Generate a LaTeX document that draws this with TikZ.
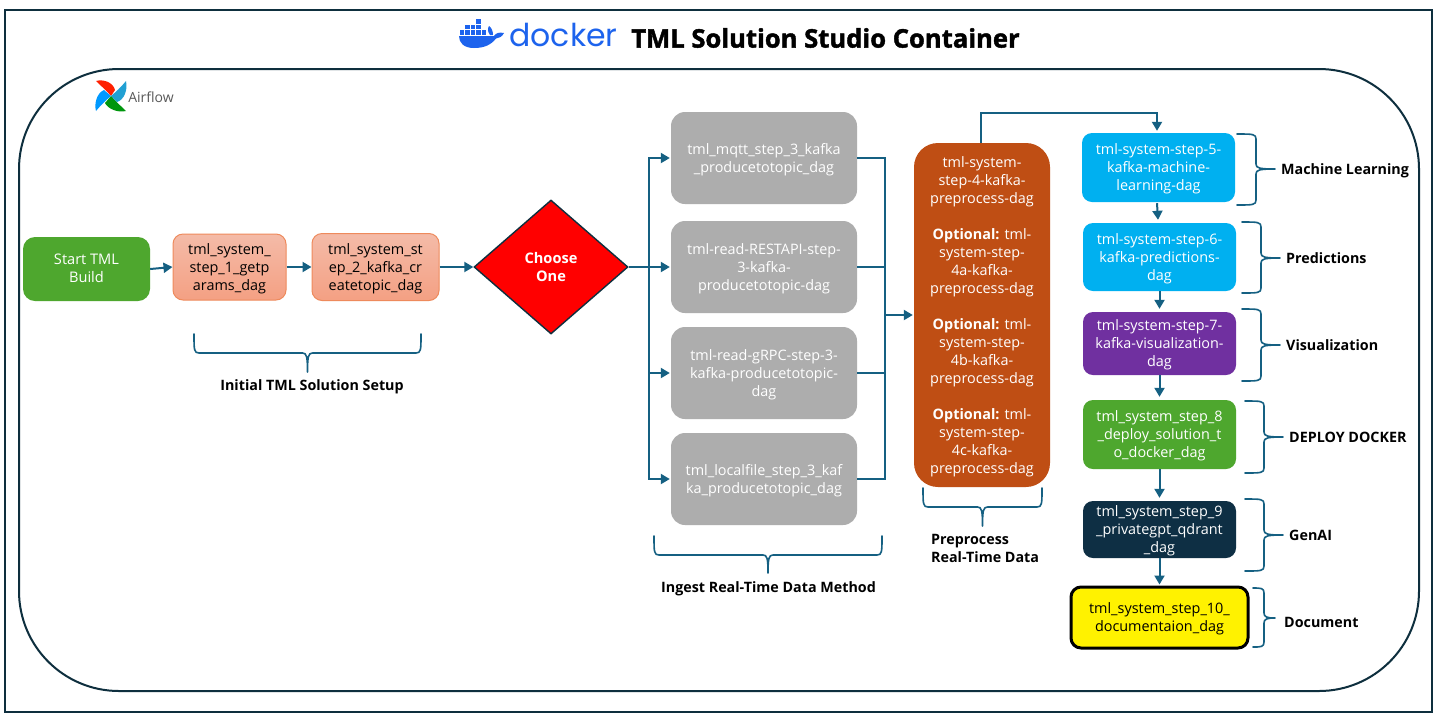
\documentclass[tikz,border=0pt]{standalone}
\usepackage{fontspec}
\setmainfont{Open Sans}
\newfontfamily\dockerfont{Poppins}
\newfontfamily\titlefont[BoldFeatures={FakeBold=1.6}]{Open Sans}
\usetikzlibrary{arrows.meta,shapes.geometric,calc}
\definecolor{frame}{HTML}{0E2F3E}
\definecolor{conn}{HTML}{156082}
\definecolor{startgreen}{HTML}{4EA72E}
\definecolor{greybox}{HTML}{ADADAD}
\definecolor{rust}{HTML}{BF4E14}
\definecolor{skyb}{HTML}{00B0F0}
\definecolor{purp}{HTML}{7030A0}
\definecolor{navy}{HTML}{0E2F44}
\definecolor{dockblue}{HTML}{1D63ED}
\definecolor{salmontop}{HTML}{F4BBA8}
\definecolor{salmonbot}{HTML}{F4A083}
\definecolor{salmonline}{HTML}{EE8A5C}
\tikzset{
  dag/.style={rounded corners=#1,inner sep=0pt,align=center,text=white,
    font=\fontsize{14.4}{18}\selectfont},
  dag/.default=12pt,
  salmon/.style={dag=10pt,draw=salmonline,line width=1pt,top color=salmontop,bottom color=salmonbot,text=black},
  lab/.style={font=\fontsize{14.3}{18}\selectfont\bfseries,inner sep=0pt,align=left,text=black},
  linelab/.style={lab,text height=15pt,text depth=3.5pt},
  flow/.style={draw=conn,line width=2pt,-{Triangle[length=9pt,width=10pt]}},
  bus/.style={draw=conn,line width=2pt},
  bracecurve/.style={draw=conn,line width=1.6pt,line cap=round,line join=round},
}
% name, x1, y1, x2, y2, style, text
\newcommand\dagbox[7]{%
  \node[#6,minimum width=#4pt-#2pt,minimum height=#5pt-#3pt] (#1) at ({(#2+#4)/2},{(#3+#5)/2}) {\rule{0pt}{14pt}#7\rule[-4pt]{0pt}{0pt}};}
% horizontal brace: x1, x2, ytop, ymid, ytip
\newcommand\hbrace[5]{%
  \draw[bracecurve] (#1,#3) .. controls (#1,#4-3) and (#1,#4) .. (#1+5,#4)
   -- ({(#1+#2)/2-5},#4) .. controls ({(#1+#2)/2-1},#4) and ({(#1+#2)/2},#4+3) .. ({(#1+#2)/2},#5)
   (#2,#3) .. controls (#2,#4-3) and (#2,#4) .. (#2-5,#4)
   -- ({(#1+#2)/2+5},#4) .. controls ({(#1+#2)/2+1},#4) and ({(#1+#2)/2},#4+3) .. ({(#1+#2)/2},#5);}
% vertical (right) brace: xstart, xmid, xtip, y1, y2, ytip
\newcommand\vbrace[6]{%
  \draw[bracecurve] (#1,#4) .. controls (#2-3,#4) and (#2,#4) .. (#2,#4+5)
   -- (#2,#6-5) .. controls (#2,#6-1) and (#2+3,#6) .. (#3,#6)
   (#1,#5) .. controls (#2-3,#5) and (#2,#5) .. (#2,#5-5)
   -- (#2,#6+5) .. controls (#2,#6+1) and (#2+3,#6) .. (#3,#6);}
\begin{document}
\begin{tikzpicture}[x=1pt,y=-1pt]
\useasboundingbox (0,0) rectangle (1437,716);
\fill[white] (0,0) rectangle (1437,716);
% frames
\draw[frame,line width=2.4pt] (5,10) rectangle (1432,712);
\draw[frame,line width=2pt,rounded corners=100pt] (19,69) rectangle (1419,691);
% docker logo
\fill[dockblue] (459,36) -- (494,36) .. controls (496,33) and (499,32) .. (504,33)
  .. controls (502,37) and (499,38) .. (496,38.5) .. controls (491,45) and (484,48) .. (474,48)
  .. controls (464,48) and (459,43) .. (459,36) -- cycle;
\foreach \px/\py in {459.5/30,465/30,470.5/30,476/30,481.5/30,
   465/24.5,470.5/24.5,476/24.5,476/19}
  \fill[dockblue] (\px,\py) rectangle +(4.6,4.6);
\fill[dockblue] (489,26) .. controls (487,29) and (488,32) .. (490,35) -- (493,35) .. controls (493,32) and (492,28) .. (489,26) -- cycle;
\node[text=dockblue,inner sep=0pt,font=\dockerfont\fontsize{31.5}{32}\selectfont] (dockerword) at (563.5,35) {docker};
\node[font=\titlefont\fontsize{25.6}{30}\selectfont\bfseries,inner sep=0pt] (title) at (825.5,38) {TML Solution Studio Container};
% airflow logo
\fill[red!75!orange] (111,96) .. controls (107,91) and (101,86) .. (96,81) .. controls (103,79) and (113,82) .. (115,90) -- cycle;
\fill[cyan!70!teal] (111,96) .. controls (116,92) and (121,87) .. (126,81) .. controls (128,90) and (124,100) .. (117,102) -- cycle;
\fill[green!60!black!90!teal] (111,96) .. controls (115,101) and (121,106) .. (126,111) .. controls (118,113) and (108,109) .. (105,103) -- cycle;
\fill[blue!40!cyan] (111,96) .. controls (106,100) and (101,105) .. (96,111) .. controls (94,103) and (97,93) .. (104,90) -- cycle;
\node[text=black!65,inner sep=0pt,font=\fontsize{14}{14}\selectfont] (airflow) at (151,97) {Airflow};
% nodes
\dagbox{start}{23}{237}{150}{301}{dag,fill=startgreen,font=\fontsize{14.6}{18}\selectfont}{Start TML\\Build\rule[-6pt]{0pt}{0pt}}
\dagbox{stepa}{173}{234}{286}{300}{salmon}{tml\_system\_\\step\_1\_getp\\arams\_dag}
\dagbox{stepb}{312}{233.5}{439}{300.5}{salmon}{tml\_system\_st\\ep\_2\_kafka\_cr\\eatetopic\_dag}
\node[diamond,aspect=1.15,draw=frame,line width=1.4pt,fill=red,text=white,inner sep=0pt,
  minimum width=154pt,minimum height=134pt,align=center,
  font=\fontsize{14.6}{18}\selectfont\bfseries] (choose) at (551,267) {Choose\\One};
\dagbox{ga}{671}{112}{857}{204}{dag=14pt,fill=greybox}{tml\_mqtt\_step\_3\_kafka\\\_producetotopic\_dag}
\dagbox{gb}{671}{221}{857}{313}{dag=14pt,fill=greybox}{tml-read-RESTAPI-step-\\3-kafka-\\producetotopic-dag}
\dagbox{gc}{671}{327}{857}{419}{dag=14pt,fill=greybox}{tml-read-gRPC-step-3-\\kafka-producetotopic-\\dag}
\dagbox{gd}{671}{433}{857}{525}{dag=14pt,fill=greybox}{tml\_localfile\_step\_3\_kaf\\ka\_producetotopic\_dag}
\dagbox{prep}{914}{143}{1050}{487}{dag=24pt,fill=rust}{tml-system-\\step-4-kafka-\\preprocess-dag\\[18pt]\textbf{Optional:} tml-\\system-step-\\4a-kafka-\\preprocess-dag\\[18pt]\textbf{Optional:} tml-\\system-step-\\4b-kafka-\\preprocess-dag\\[18pt]\textbf{Optional:} tml-\\system-step-\\4c-kafka-\\preprocess-dag}
\dagbox{ml}{1082}{133}{1235}{202}{dag=10pt,fill=skyb}{tml-system-step-5-\\kafka-machine-\\learning-dag}
\dagbox{pred}{1083}{223}{1236}{291}{dag=10pt,fill=skyb}{tml-system-step-6-\\kafka-predictions-\\dag}
\dagbox{vis}{1083}{312}{1236}{375}{dag=10pt,fill=purp}{tml-system-step-7-\\kafka-visualization-\\dag}
\dagbox{dep}{1083}{400}{1236}{469}{dag=10pt,fill=startgreen}{tml\_system\_step\_8\\\_deploy\_solution\_t\\o\_docker\_dag}
\dagbox{gen}{1083}{501}{1236}{558}{dag=10pt,fill=navy}{tml\_system\_step\_9\\\_privategpt\_qdrant\\\_dag}
\dagbox{doc}{1071}{587}{1248}{648}{dag=10pt,fill=yellow,draw=black,line width=3pt,text=black}{tml\_system\_step\_10\_\\documentaion\_dag}
% connectors
\draw[flow] (start.east) -- (stepa.west);
\draw[flow] (stepa.east) -- (stepb.west);
\draw[flow] (stepb.east) -- (choose.west);
\coordinate (busl) at (649,267);
\coordinate (busr) at (885,315);
\draw[bus] (choose.east) -- (busl);
\draw[flow] (busl) |- ([xshift=-1pt]ga.west);
\draw[flow] (busl) -- ([xshift=-1pt]gb.west);
\draw[flow] (busl) |- ([xshift=-1pt]gc.west);
\draw[flow] (busl) |- ([xshift=-1pt]gd.west);
\draw[bus] (ga.east) -| (busr);
\draw[bus] (gb.east) -| (busr);
\draw[bus] (gc.east) -| (busr);
\draw[bus] (gd.east) -| (busr);
\draw[flow] (busr) -- ([xshift=-1pt]prep.west);
\draw[flow] ([xshift=-1pt]prep.north) -- ++(0,-30) -| ([xshift=-1.5pt,yshift=2pt]ml.north);
\draw[flow] (ml.south) ++(-1.5,1) -- ([xshift=-1.5pt,yshift=3pt]pred.north);
\draw[flow] (pred.south) -- ([yshift=3pt]vis.north);
\draw[flow] (vis.south) -- ([yshift=3pt]dep.north);
\draw[flow] (dep.south) -- ([yshift=3pt]gen.north);
\draw[flow] (gen.south) -- ([yshift=1pt]doc.north);
% braces
\hbrace{194}{421}{334}{353}{372}
\hbrace{654}{882}{536}{555}{573}
\hbrace{923}{1042}{488}{507}{526}
\vbrace{1237}{1256}{1275}{134}{205}{169}
\vbrace{1242}{1261}{1280}{222}{293}{258}
\vbrace{1242}{1261}{1280}{309}{381}{345}
\vbrace{1245}{1264}{1283}{401}{473}{437}
\vbrace{1245}{1264}{1283}{499}{571}{535}
\vbrace{1253}{1264}{1275}{588}{647}{618}
% labels
\node[linelab,anchor=center] (l1) at (312,385) {Initial TML Solution Setup};
\node[linelab,anchor=center] (l2) at (768.5,587) {Ingest Real-Time Data Method};
\node[lab,anchor=west] (l3) at (931,548) {Preprocess\\Real-Time Data};
\node[linelab,anchor=west] (l4) at (1281,169) {Machine Learning};
\node[linelab,anchor=west] (l5) at (1286,258) {Predictions};
\node[linelab,anchor=west] (l6) at (1286,345) {Visualization};
\node[linelab,anchor=west] (l7) at (1289,437) {DEPLOY DOCKER};
\node[linelab,anchor=west] (l8) at (1289,535) {GenAI};
\node[linelab,anchor=west] (l9) at (1284,622) {Document};
\end{tikzpicture}
\end{document}
